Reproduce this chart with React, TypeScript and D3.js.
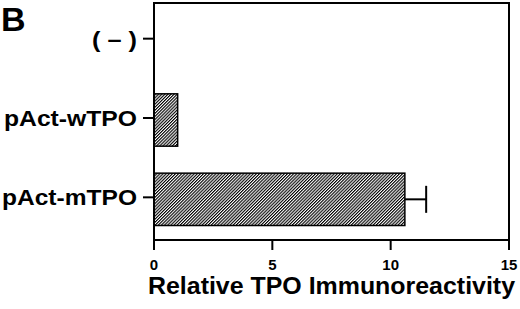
import React from "react";
import * as d3 from "d3";

const categories = ["( – )", "pAct-wTPO", "pAct-mTPO"];
const values = [0, 1.0, 10.6];
const errors = [0, 0, 0.9];
const xTicks = [0, 5, 10, 15];
const xTitle = "Relative TPO Immunoreactivity";
const panelLabel = "B";
const labelWidths = [45, 133, 135];

export default function App() {
  const W = 520, H = 309;
  const left = 154, right = 509, top = 3, bottom = 240;
  const x = d3.scaleLinear().domain([0, 15]).range([left, right]);
  const y = d3.scaleBand<string>().domain(categories).range([1, 239]).paddingInner(0.34).paddingOuter(0.17);
  const font = "'Liberation Sans', Arial, Helvetica, sans-serif";
  return (
    <svg width={W} height={H} style={{ position: "absolute", left: 0, top: 0, background: "#fff" }} fontFamily={font}>
      <defs>
        <pattern id="hatch" width="2.2" height="2.2" patternUnits="userSpaceOnUse" patternTransform="rotate(45)">
          <rect width="2.2" height="2.2" fill="#fff" />
          <line x1="0.55" y1="0" x2="0.55" y2="2.2" stroke="#000" strokeWidth="1.15" />
        </pattern>
      </defs>
      <text x={1} y={31} fontSize={34} fontWeight="bold">{panelLabel}</text>
      {categories.map((c, i) => {
        const yc = y(c)! + y.bandwidth() / 2;
        const v = values[i];
        return (
          <g key={c}>
            {v > 0 && (
              <rect x={x(0)} y={y(c)!} width={x(v) - x(0)} height={y.bandwidth()} fill="url(#hatch)" stroke="#000" strokeWidth={1.5} />
            )}
            {errors[i] > 0 && (
              <g stroke="#000" strokeWidth={2}>
                <line x1={x(v)} x2={x(v + errors[i])} y1={yc} y2={yc} />
                <line x1={x(v + errors[i])} x2={x(v + errors[i])} y1={yc - 13.5} y2={yc + 13.5} />
              </g>
            )}
            <line x1={left - 11} x2={left} y1={yc - 2} y2={yc - 2} stroke="#000" strokeWidth={2} />
            <text x={137} y={yc - 2} dy="0.36em" textAnchor="end" fontSize={22} fontWeight="bold"
              textLength={labelWidths[i]} lengthAdjust="spacingAndGlyphs">{c}</text>
          </g>
        );
      })}
      <rect x={left} y={top} width={right - left} height={bottom - top} fill="none" stroke="#000" strokeWidth={2} />
      {xTicks.map((t) => (
        <g key={t}>
          <line x1={x(t)} x2={x(t)} y1={bottom} y2={bottom + 10} stroke="#000" strokeWidth={2} />
          <text x={x(t)} y={270} textAnchor="middle" fontSize={15} fontWeight="bold">{t}</text>
        </g>
      ))}
      <text x={331.5} y={294} textAnchor="middle" fontSize={24} fontWeight="bold" textLength={367} lengthAdjust="spacingAndGlyphs">{xTitle}</text>
    </svg>
  );
}
